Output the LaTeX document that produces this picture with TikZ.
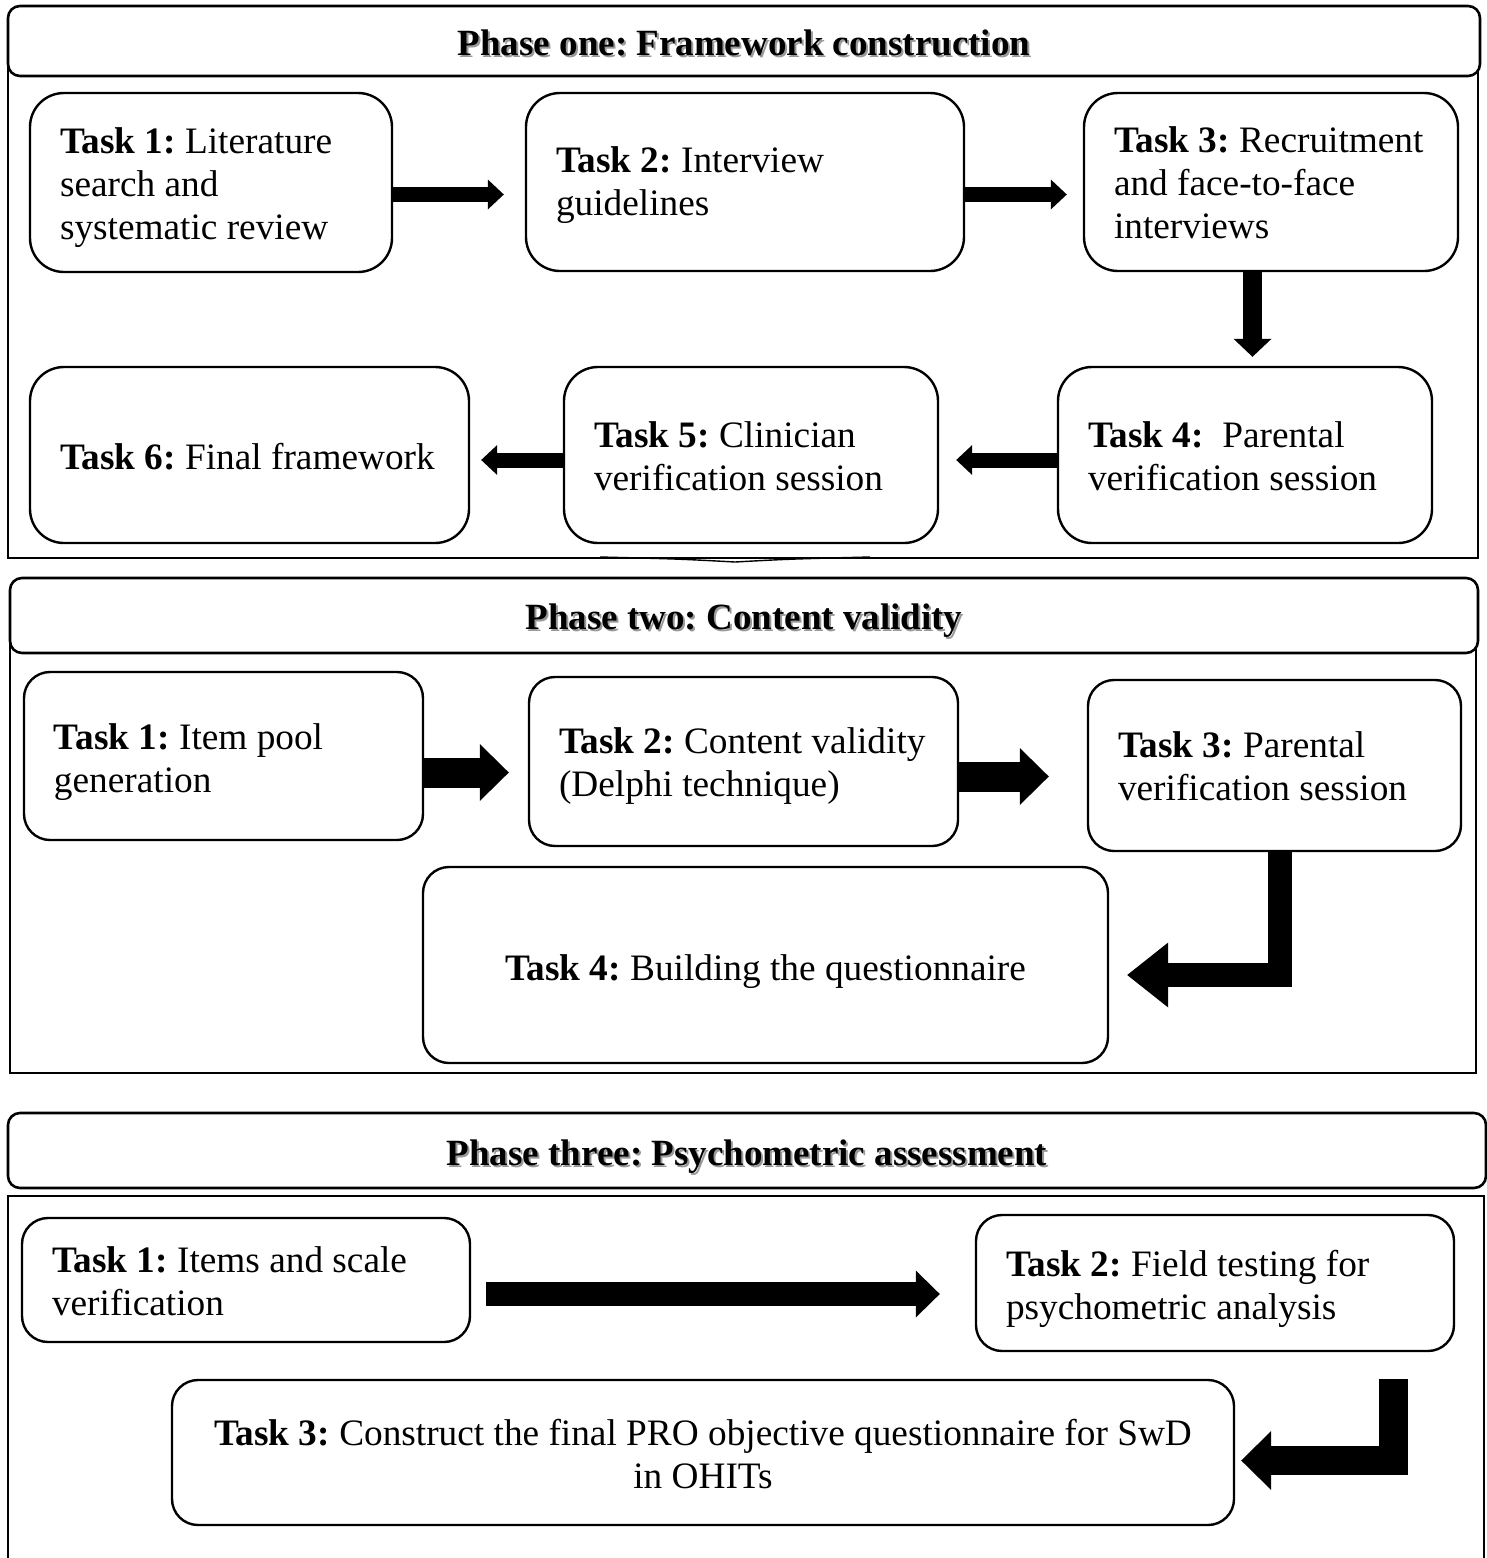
\documentclass[tikz,border=0pt]{standalone}
\usepackage{fontspec}
\setmainfont{Liberation Serif}
\usetikzlibrary{arrows.meta}
\newcommand\myshadow[2]{\raisebox{-#1}[\height][\depth]{\makebox[0pt][l]{\hspace{1pt}\raisebox{-1pt}{\color{black!40}#2}}#2}}
\newcommand\oneline[1]{\mbox{#1}}
\newcommand\tasktext[3]{\raisebox{-#1}[\height][\depth]{\parbox{#2}{\raggedright #3}}}
\newcommand\ctasktext[3]{\raisebox{-#1}[\height][\depth]{\parbox{#2}{\centering #3}}}
\tikzset{
  task/.style={draw, line width=1.2pt, rounded corners=17pt, fill=white, inner xsep=15pt, inner ysep=0pt,
    font=\fontsize{18.65}{21.5}\selectfont\frenchspacing},
  stask/.style={task, rounded corners=13pt},
  header/.style={draw, line width=1.3pt, rounded corners=6pt, fill=white, inner sep=0pt,
    font=\fontsize{18.5}{21.5}\selectfont\bfseries\frenchspacing},
  frame/.style={draw, line width=1.3pt},
  thinarrow/.style={line width=7.5pt, line cap=butt, -{Triangle[width=15pt,length=8pt,line width=0pt]}},
  downarrow/.style={line width=9.5pt, line cap=butt, -{Triangle[width=19pt,length=9pt,line width=0pt]}},
  bigarrow/.style={line width=15pt, line cap=butt, -{Triangle[width=28.5pt,length=14.5pt,line width=0pt]}},
  elbowarrow/.style={line width=12pt, line cap=butt, line join=miter, -{Triangle[width=32.5pt,length=20.5pt,line width=0pt]}},
  elbowarrowb/.style={line width=14.5pt, line cap=butt, line join=miter, -{Triangle[width=29.5pt,length=15pt,line width=0pt]}},
  longarrow/.style={line width=12pt, line cap=butt, -{Triangle[width=23.5pt,length=12pt,line width=0pt]}}
}
\begin{document}
\frenchspacing
\begin{tikzpicture}[x=0.5pt,y=-0.5pt]
\clip (0,0) rectangle (1487,1558);
\fill[white] (0,0) rectangle (1487,1558);

% ---------- Phase one ----------
\draw[frame] (8,41) rectangle (1478,558);
\draw[line width=0.7pt] (600,557) .. controls (680,559) .. (735,562) .. controls (790,559) .. (870,557);
\node[header, minimum width=736pt, minimum height=35pt] (h1) at (744,41) {\myshadow{1.5pt}{Phase one: Framework construction}};

\node[task, minimum height=89.5pt] (p1t1) at (211,182.5)
  {\tasktext{2.5pt}{151pt}{\oneline{\textbf{Task 1:} Literature}\\\oneline{search and}\\\oneline{systematic review}}};
\node[task, minimum height=89pt] (p1t2) at (745,182)
  {\tasktext{1.75pt}{189pt}{\oneline{\textbf{Task 2:} Interview}\\\oneline{guidelines}}};
\node[task, minimum height=89pt] (p1t3) at (1271,182)
  {\tasktext{0.5pt}{157pt}{\oneline{\textbf{Task 3:} Recruitment}\\\oneline{and face-to-face}\\\oneline{interviews}}};
\node[task, minimum height=88pt] (p1t4) at (1245,455)
  {\tasktext{0.5pt}{157pt}{\oneline{\textbf{Task 4:}\ \ Parental}\\\oneline{verification session}}};
\node[task, minimum height=88pt] (p1t5) at (751,455)
  {\tasktext{0.5pt}{157pt}{\oneline{\textbf{Task 5:} Clinician}\\\oneline{verification session}}};
\node[task, minimum height=88pt] (p1t6) at (249.5,455)
  {\tasktext{1pt}{189.5pt}{\oneline{\textbf{Task 6:} Final framework}}};

\draw[thinarrow, shorten >=10.5pt] (p1t1.east |- 0,194.5) -- (p1t2.west |- 0,194.5);
\draw[thinarrow, shorten >=8pt] (p1t2.east |- 0,194.5) -- (p1t3.west |- 0,194.5);
\draw[downarrow, shorten >=4.5pt] (1252.5,0 |- p1t3.south) -- (1252.5,0 |- p1t4.north);
\draw[thinarrow, shorten >=8.5pt] (p1t4.west |- 0,460) -- (p1t5.east |- 0,460);
\draw[thinarrow, shorten >=5.5pt] (p1t5.west |- 0,460) -- (p1t6.east |- 0,460);

% ---------- Phase two ----------
\draw[frame] (10,615) rectangle (1476,1073);
\node[header, minimum width=734pt, minimum height=37.5pt] (h2) at (744,615.5) {\myshadow{3pt}{Phase two: Content validity}};

\node[stask, minimum height=84pt] (p2t1) at (223.5,756)
  {\tasktext{3pt}{169.5pt}{\oneline{\textbf{Task 1:} Item pool}\\\oneline{generation}}};
\node[stask, minimum height=84.5pt] (p2t2) at (743.5,761.5)
  {\tasktext{2.5pt}{184.5pt}{\oneline{\textbf{Task 2:} Content validity}\\\oneline{(Delphi technique)}}};
\node[stask, minimum height=85.5pt] (p2t3) at (1274.5,765.5)
  {\tasktext{0.5pt}{156.5pt}{\oneline{\textbf{Task 3:} Parental}\\\oneline{verification session}}};
\node[stask, minimum height=98pt] (p2t4) at (765.5,965)
  {\ctasktext{3.5pt}{312.5pt}{\textbf{Task 4:} Building the questionnaire}};

\draw[bigarrow, shorten >=9.5pt] (p2t1.east |- 0,772.5) -- (p2t2.west |- 0,772.5);
\draw[bigarrow, shorten >=19pt] (p2t2.east |- 0,776.5) -- (p2t3.west |- 0,776.5);
\draw[elbowarrow, shorten >=9pt] (1280,0 |- p2t3.south) -- (1280,975) -- (p2t4.east |- 0,975);

% ---------- Phase three ----------
\draw[frame] (8,1196) rectangle (1484,1620);
\node[header, minimum width=739pt, minimum height=37.5pt] (h3) at (747,1150.5) {\myshadow{3.5pt}{Phase three: Psychometric assessment}};

\node[stask, minimum height=62pt] (p3t1) at (246,1280)
  {\tasktext{0.75pt}{194pt}{\oneline{\textbf{Task 1:} Items and scale}\\\oneline{verification}}};
\node[stask, minimum height=68pt] (p3t2) at (1215,1283)
  {\tasktext{3pt}{209pt}{\oneline{\textbf{Task 2:} Field testing for}\\\oneline{psychometric analysis}}};
\node[stask, minimum height=72.5pt] (p3t3) at (703,1452.5)
  {\ctasktext{1pt}{501pt}{\oneline{\textbf{Task 3:} Construct the final PRO objective questionnaire for SwD}\\in OHITs}};

\draw[longarrow, shorten <=7.5pt, shorten >=17.5pt] (p3t1.east |- 0,1294) -- (p3t2.west |- 0,1294);
\draw[elbowarrowb, shorten <=13.5pt, shorten >=3pt] (1393,0 |- p3t2.south) -- (1393,1460.5) -- (p3t3.east |- 0,1460.5);
\end{tikzpicture}
\end{document}
